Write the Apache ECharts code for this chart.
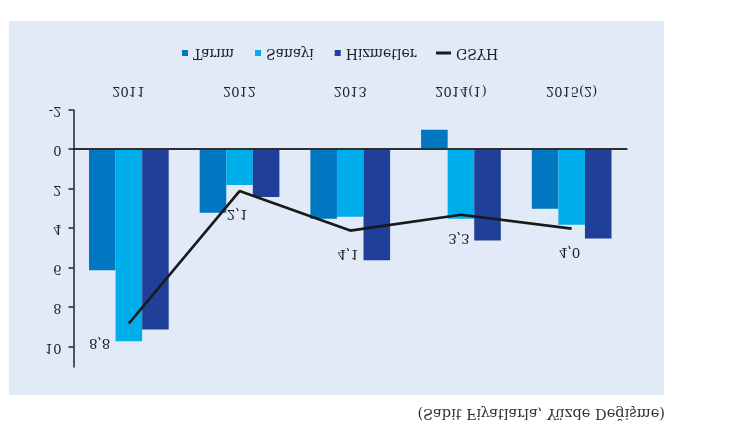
<!DOCTYPE html>
<html>
<head>
<meta charset="utf-8">
<script src="https://cdn.jsdelivr.net/npm/echarts@6/dist/echarts.min.js"></script>
<style>
html,body{margin:0;padding:0;background:#fff;}
#c{width:729px;height:442px;transform:scaleY(-1);}
</style>
</head>
<body>
<div id="c"></div>
<script>
// Data
const categories = ['2011', '2012', '2013', '2014(1)', '2015(2)'];
const tarim = [6.1, 3.2, 3.5, -1.0, 3.0];
const sanayi = [9.7, 1.8, 3.4, 3.5, 3.8];
const hizmetler = [9.1, 2.4, 5.6, 4.6, 4.5];
const gsyh = [8.8, 2.1, 4.1, 3.3, 4.0];
const yTicks = [-2, 0, 2, 4, 6, 8, 10];
const seriesNames = ['Tarım', 'Sanayi', 'Hizmetler', 'GSYH'];
const sourceNote = '(Sabit Fiyatlarla, Yüzde Değişme)';

const FONT = '"DejaVu Serif", "Liberation Serif", serif';
const chart = echarts.init(document.getElementById('c'));

const lineData = gsyh.map((v, i) => i === 0
  ? { value: v, label: { position: 'left', distance: 18, offset: [0, -19] } }
  : { value: v });

chart.setOption({
  animation: false,
  backgroundColor: 'transparent',
  graphic: [{
    type: 'rect', z: -10, silent: true,
    shape: { x: 9, y: 47, width: 655, height: 374 },
    style: { fill: '#e1eaf6' }
  }],
  title: {
    text: sourceNote,
    right: 64, top: 21, padding: 0,
    textStyle: { fontFamily: FONT, fontSize: 14.6, fontWeight: 'normal', color: '#333', lineHeight: 16 }
  },
  legend: [
    {
      data: seriesNames.slice(0, 3).map(n => ({ name: n, icon: 'rect' })),
      left: 182, top: 380, padding: 0,
      itemWidth: 6, itemHeight: 6, itemGap: 21,
      textStyle: { fontFamily: FONT, fontSize: 14, color: '#222', lineHeight: 18 }
    },
    {
      data: [{ name: seriesNames[3], icon: 'rect', itemStyle: { color: '#1a1a1a', opacity: 1 } }],
      left: 436, top: 380, padding: 0,
      itemWidth: 15, itemHeight: 3,
      textStyle: { fontFamily: FONT, fontSize: 14, color: '#222', lineHeight: 18 }
    }
  ],
  grid: { left: 73.5, right: 102, top: 75, bottom: 110, containLabel: false },
  xAxis: {
    type: 'category',
    data: categories,
    axisLine: { show: true, lineStyle: { color: '#222', width: 1.5 } },
    axisTick: { show: false },
    axisLabel: { fontFamily: FONT, fontSize: 13, color: '#222', margin: 13 }
  },
  yAxis: {
    type: 'value',
    min: -2, max: 11, interval: 2,
    axisLine: { show: true, lineStyle: { color: '#222', width: 1.5 } },
    axisTick: { show: true, length: 5, lineStyle: { color: '#222', width: 1.5 }, customValues: yTicks },
    axisLabel: { fontFamily: FONT, fontSize: 13, color: '#222', margin: 12, customValues: yTicks },
    splitLine: { show: false }
  },
  series: [
    {
      name: seriesNames[0], type: 'bar', data: tarim,
      barGap: '0%', barCategoryGap: '28%',
      itemStyle: { color: '#0077c0' },
      markLine: {
        silent: true, symbol: ['none', 'none'],
        label: { show: false },
        lineStyle: { color: '#222', width: 1.5, type: 'solid' },
        data: [{ yAxis: 0 }]
      }
    },
    { name: seriesNames[1], type: 'bar', data: sanayi, itemStyle: { color: '#00aeeb' } },
    { name: seriesNames[2], type: 'bar', data: hizmetler, itemStyle: { color: '#203f98' } },
    {
      name: seriesNames[3], type: 'line', data: lineData,
      symbol: 'circle', symbolSize: 1, showSymbol: true, z: 5,
      lineStyle: { color: '#1a1a1a', width: 2.7 },
      itemStyle: { color: 'rgba(0,0,0,0)' },
      label: {
        show: true, position: 'top', distance: 15, offset: [-2, 0],
        fontFamily: FONT, fontSize: 13.5, color: '#222',
        formatter: p => p.value.toFixed(1).replace('.', ',')
      }
    }
  ]
});
</script>
</body>
</html>
